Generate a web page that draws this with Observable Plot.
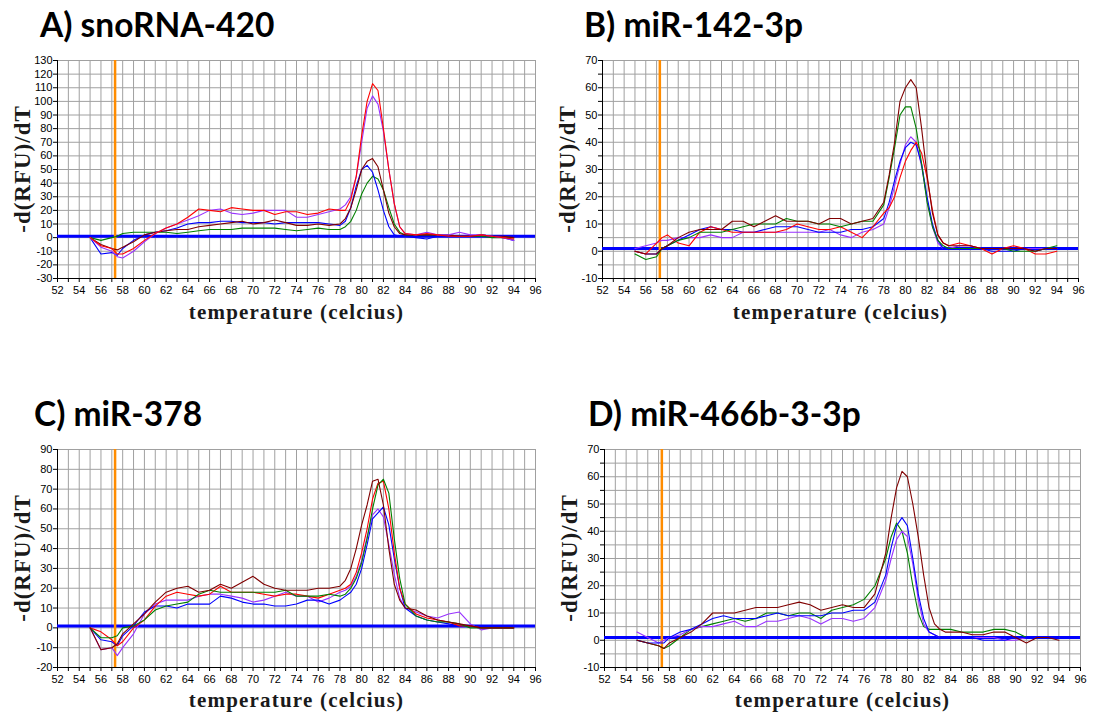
<!DOCTYPE html>
<html><head><meta charset="utf-8">
<script src="https://cdn.jsdelivr.net/npm/d3@7"></script>
<script src="https://cdn.jsdelivr.net/npm/@observablehq/plot@0.6"></script>
<style>
body{margin:0;background:#fff;}
#root{position:relative;width:1093px;height:717px;overflow:hidden;background:#fff;}
.title{position:absolute;font-family:Lato,"Open Sans",sans-serif;font-weight:700;font-size:33.5px;color:#000;white-space:nowrap;line-height:1;}
.ylab{position:absolute;font-family:"Liberation Serif",serif;font-weight:700;font-size:23px;color:#1a1a1a;white-space:nowrap;line-height:1;transform:translate(-50%,-50%) rotate(-90deg);letter-spacing:1px;}
.panel{position:absolute;}
</style></head><body><div id="root"></div>
<script>
// shared temperature samples (°C)
const temps = [55,56,57,57.5,58,59,60,61,62,63,64,65,66,67,68,69,70,71,72,73,74,75,76,77,78,78.5,79,79.5,80,80.5,81,81.5,82,82.5,83,83.5,84,85,86,87,88,89,90,91,92,93,94];

// A) snoRNA-420
const aDarkred = [0,-5,-8,-9,-7, -3,2,4,5,6,6,8,9,10,11,12,10,11,13,11,9,9,10,9,10, 14,22,35,50,56,58,52,35,18,8,3,2, 2,2,2,2,1,1,2,1,1,0];
const aRed     = [0,-6,-8,-12,-12, -8,-2,3,7,10,15,21,20,19,22,21,20,20,17,19,19,17,18,21,20, 20,28,45,75,100,113,108,80,50,25,8,3, 2,3,2,1,1,1,2,1,0,-1];
const aGreen   = [0,-2,0,1,3, 4,4,4,4,3,4,5,6,6,6,7,7,7,7,6,5,6,7,6,6, 8,12,20,32,40,45,43,35,22,10,4,2, 2,2,2,2,1,1,1,0,0,0];
const aBlue    = [0,-12,-11,-13,-8, -2,2,4,5,7,10,11,11,12,12,11,11,11,10,11,11,11,11,10,9, 12,22,38,50,53,48,35,20,8,2,1,1, 0,-1,1,1,1,1,2,1,0,-2];
const aPurple  = [0,-7,-10,-14,-15, -10,-3,3,7,10,13,16,20,21,18,17,18,20,20,20,15,15,17,19,21, 24,30,45,70,95,104,98,78,50,25,8,3, 2,4,2,2,4,2,2,1,0,-2];

// B) miR-142-3p
const bDarkred = [0,-1,-1,1,2, 5,7,8,8,8,11,11,9,11,13,11,11,11,10,12,12,10,11,12,18, 28,40,55,60,63,60,45,28,14,6,3,2, 2,2,1,1,1,1,1,0,1,1];
const bRed     = [0,-1,3,5,6, 3,2,7,9,8,7,7,7,7,7,8,10,9,8,8,9,7,5,9,14, 16,20,27,33,37,40,36,27,15,6,3,2, 3,2,1,-1,1,2,1,-1,-1,0];
const bGreen   = [-1,-3,-2,1,2, 4,5,7,7,7,8,9,10,10,10,12,11,11,10,10,9,10,11,11,17, 27,38,50,53,53,45,32,18,9,4,2,1, 1,1,1,1,1,0,0,0,1,2];
const bBlue    = [0,-1,-1,1,2, 4,6,8,9,8,8,7,7,8,9,9,9,8,7,7,7,8,8,9,12, 18,26,33,38,40,39,32,20,10,4,1,1, 1,1,1,0,0,0,1,0,1,1];
const bPurple  = [1,2,3,4,4, 5,5,5,6,5,5,7,7,7,7,7,7,7,7,8,6,5,7,8,10, 16,24,32,39,42,40,31,19,9,3,1,1, 2,2,1,1,1,1,1,1,1,1];

// C) miR-378
const cDarkred = [0,-11,-10,-8,-3, 2,7,13,18,20,21,18,19,22,20,23,26,22,20,19,19,19,20,20,21, 24,30,40,52,62,74,75,62,40,22,14,10, 9,6,4,3,2,1,0,0,0,0];
const cRed     = [0,-2,-6,-9,-7, 0,4,11,16,18,17,16,17,21,18,18,18,17,16,17,17,16,15,17,19, 20,22,28,38,50,65,73,74,60,38,20,12, 7,5,4,3,1,1,0,0,0,0];
const cGreen   = [0,-5,-5,-4,0, 1,4,9,11,12,13,17,19,18,18,18,18,18,18,19,16,16,16,17,16, 17,20,25,33,45,60,72,75,68,45,25,12, 6,4,3,3,2,0,0,0,0,0];
const cBlue    = [0,-6,-7,-9,-4, 1,8,11,11,10,12,12,12,16,15,13,12,12,11,11,12,14,14,12,14, 16,18,22,30,42,55,58,61,52,35,20,10, 6,4,3,2,1,1,0,0,0,0];
const cPurple  = [0,-11,-10,-14,-10, -3,7,12,14,14,14,16,17,17,16,15,13,14,16,18,16,16,13,15,18, 19,21,26,34,46,57,60,56,42,27,15,10, 8,6,5,7,8,2,-1,0,0,0];

// D) miR-466b-3-3p
const dDarkred = [0,-1,-2,-3,-1, 1,3,6,10,10,10,11,12,12,12,13,14,13,11,12,13,12,12,17,32, 45,56,62,60,50,38,24,12,6,4,3,3, 3,2,2,3,3,1,-1,1,1,0];
const dGreen   = [0,-1,-2,-3,-2, 1,4,5,6,7,8,7,8,10,10,9,10,10,8,11,12,13,15,20,30, 38,43,40,32,20,10,5,4,4,4,4,4, 3,3,3,4,4,3,1,1,1,1];
const dBlue    = [0,-1,-1,-1,1, 3,4,6,8,9,8,8,8,9,10,9,9,9,9,10,10,11,11,14,24, 34,42,45,42,30,17,8,3,2,1,1,1, 1,1,0,0,0,1,1,1,1,1];
const dPurple  = [3,1,-1,0,1, 2,4,5,5,6,7,5,5,7,7,8,9,8,6,8,8,7,8,12,22, 30,37,40,38,28,15,6,3,2,1,1,1, 1,1,1,1,0,0,1,1,1,1];

const titles = ["A) snoRNA-420", "B) miR-142-3p", "C) miR-378", "D) miR-466b-3-3p"];
const xLabel = "temperature (celcius)";
const yLabel = "-d(RFU)/dT";
const threshold = 1;
const cursorT = 57.3;

const colors = {darkred:"#800000", red:"#ff0000", green:"#008000", blue:"#0000ff", purple:"#9933ff"};

const panels = [
  {title:titles[0], tx:40, ty:8, left:0, top:50, w:548, h:280, px0:57, px1:535, py0:60, py1:278, ymin:-30, ymax:130, grid:10, xdy:40,
   series:[["green",aGreen],["blue",aBlue],["darkred",aDarkred],["purple",aPurple],["red",aRed]]},
  {title:titles[1], tx:584, ty:8, left:548, top:50, w:545, h:280, px0:602, px1:1078, py0:60, py1:278, ymin:-10, ymax:70, grid:5, xdy:40,
   series:[["purple",bPurple],["blue",bBlue],["red",bRed],["green",bGreen],["darkred",bDarkred]]},
  {title:titles[2], tx:34, ty:397, left:0, top:439, w:548, h:278, px0:57, px1:535, py0:449, py1:667, ymin:-20, ymax:90, grid:10, xdy:39,
   series:[["purple",cPurple],["blue",cBlue],["red",cRed],["green",cGreen],["darkred",cDarkred]]},
  {title:titles[3], tx:588, ty:397, left:548, top:439, w:545, h:278, px0:604, px1:1080, py0:449, py1:667, ymin:-10, ymax:70, grid:5, xdy:39,
   series:[["green",dGreen],["purple",dPurple],["blue",dBlue],["darkred",dDarkred]]}
];

const root = document.getElementById("root");

for (const p of panels) {
  const t = document.createElement("div");
  t.className = "title";
  t.style.left = p.tx + "px";
  t.style.top = p.ty + "px";
  t.textContent = p.title;
  root.appendChild(t);

  const lineMarks = p.series.map(([c, vals]) =>
    Plot.line(temps.map((tt, i) => ({t: tt, v: vals[i]})), {x: "t", y: "v", stroke: colors[c], strokeWidth: 1.1})
  );

  const chart = Plot.plot({
    width: p.w,
    height: p.h,
    marginLeft: p.px0 - p.left,
    marginRight: p.left + p.w - p.px1,
    marginTop: p.py0 - p.top,
    marginBottom: p.top + p.h - p.py1,
    style: {fontFamily: "'Liberation Sans', Arial, sans-serif", fontSize: "11px", background: "#fff", color: "#000"},
    x: {domain: [52, 96]},
    y: {domain: [p.ymin, p.ymax]},
    marks: [
      Plot.gridX(d3.range(52, 97, 1), {stroke: "#a0a0a0", strokeOpacity: 1, strokeWidth: 1}),
      Plot.gridY(d3.range(p.ymin, p.ymax + 1, p.grid), {stroke: "#a0a0a0", strokeOpacity: 1, strokeWidth: 1}),
      Plot.axisX({ticks: d3.range(52, 97, 1), tickFormat: d => d % 2 === 0 ? d : "", tickSize: 4, tickPadding: 4, label: null}),
      Plot.axisY({ticks: d3.range(p.ymin, p.ymax + 1, p.grid), tickFormat: d => d % 10 === 0 ? d : "", tickSize: 4, tickPadding: 1, label: null}),
      Plot.ruleX([52], {stroke: "#000"}),
      Plot.ruleY([p.ymin], {stroke: "#000"}),
      Plot.ruleY([threshold], {stroke: "#0000ff", strokeWidth: 3}),
      Plot.ruleX([cursorT], {stroke: "#ff8c00", strokeWidth: 2.5}),
      ...lineMarks,
      Plot.text([xLabel], {text: d => d, frameAnchor: "bottom", dy: p.xdy, fontSize: 21, fontWeight: "bold", fontFamily: "'Liberation Serif', serif", fill: "#1a1a1a"})
    ]
  });
  chart.querySelectorAll("text").forEach(el => { if (el.textContent === xLabel) el.style.letterSpacing = "1.2px"; });
  const wrap = document.createElement("div");
  wrap.className = "panel";
  wrap.style.left = p.left + "px";
  wrap.style.top = p.top + "px";
  wrap.appendChild(chart);
  root.appendChild(wrap);

  const yl = document.createElement("div");
  yl.className = "ylab";
  yl.style.left = (p.px0 - 35) + "px";
  yl.style.top = ((p.py0 + p.py1) / 2) + "px";
  yl.textContent = yLabel;
  root.appendChild(yl);
}
</script></body></html>
